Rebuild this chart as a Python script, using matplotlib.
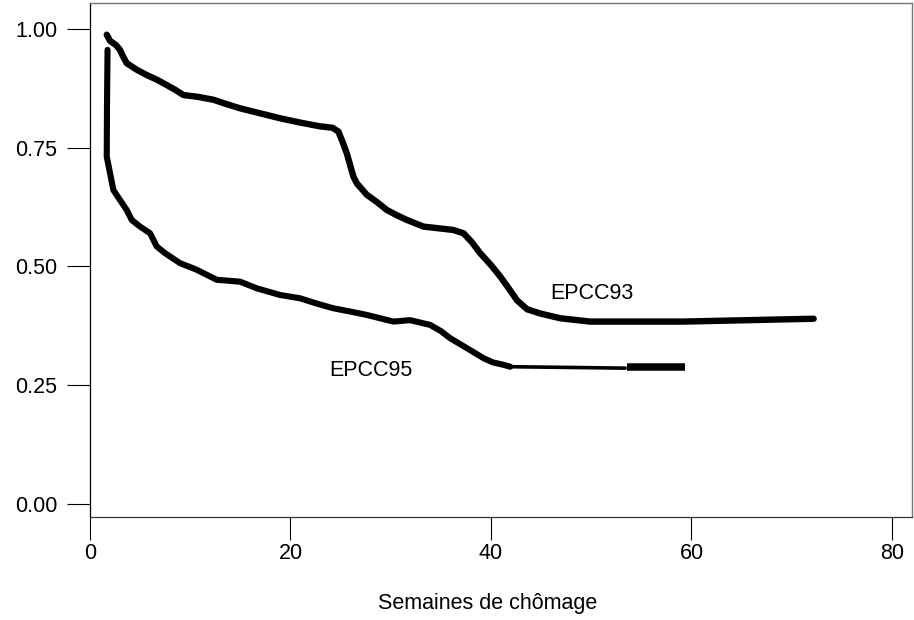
import matplotlib
matplotlib.use('Agg')
import matplotlib.pyplot as plt

plt.rcParams['font.family'] = ['Liberation Sans', 'DejaVu Sans']

# Kaplan-Meier style survival curves
epcc93_weeks = [1.67, 2.0, 2.6, 2.99, 3.3, 3.66, 4.6, 5.66, 6.7, 7.65, 8.5, 9.31, 10.8, 12.31, 13.6,
                14.97, 16.3, 17.64, 18.96, 20.96, 22.95, 24.2, 24.78, 25.2, 25.62, 26.28, 26.62,
                27.61, 28.6, 29.61, 30.6, 31.61, 33.26, 34.93, 36.2, 37.26, 38.1, 38.92, 40.0,
                40.92, 41.8, 42.59, 43.6, 44.91, 46.91, 49.90, 59.18, 72.19]
epcc93_surv = [0.988, 0.975, 0.966, 0.956, 0.942, 0.928, 0.915, 0.903, 0.893, 0.882, 0.872, 0.861,
               0.857, 0.851, 0.842, 0.833, 0.826, 0.819, 0.812, 0.803, 0.795, 0.792, 0.784, 0.762,
               0.738, 0.689, 0.675, 0.651, 0.636, 0.619, 0.608, 0.598, 0.584, 0.580, 0.577, 0.570,
               0.551, 0.528, 0.503, 0.479, 0.453, 0.429, 0.410, 0.401, 0.391, 0.384, 0.384, 0.390]

epcc95_weeks = [1.75, 1.7, 1.67, 1.996, 2.33, 2.99, 3.66, 4.16, 4.99, 5.99, 6.66, 7.49, 8.98,
                10.31, 10.65, 12.65, 14.97, 16.64, 18.96, 20.96, 22.6, 24.28, 26.0, 27.61,
                30.27, 31.94, 33.93, 35.0, 35.93, 37.92, 39.25, 40.2, 41.25, 41.92]
epcc95_surv = [0.956, 0.850, 0.731, 0.697, 0.661, 0.640, 0.619, 0.598, 0.584, 0.570, 0.542, 0.528,
               0.507, 0.496, 0.493, 0.472, 0.468, 0.454, 0.440, 0.433, 0.422, 0.412, 0.405, 0.398,
               0.384, 0.387, 0.377, 0.364, 0.349, 0.324, 0.307, 0.298, 0.293, 0.289]
epcc95_tail_weeks = [41.92, 53.39]
epcc95_tail_surv = [0.289, 0.286]
epcc95_end_weeks = [53.6, 59.4]
epcc95_end_surv = [0.288, 0.288]

x_ticks = [0, 20, 40, 60, 80]
y_ticks = [0.00, 0.25, 0.50, 0.75, 1.00]

fig = plt.figure(figsize=(9.14, 6.2), dpi=100)
ax = fig.add_axes([90 / 914, 1 - 517 / 620, 822 / 914, 514 / 620])

line_kw = dict(color='black', solid_capstyle='round', solid_joinstyle='round')
ax.plot(epcc93_weeks, epcc93_surv, lw=4.6, **line_kw)
ax.plot(epcc95_weeks, epcc95_surv, lw=4.4, **line_kw)
ax.plot(epcc95_tail_weeks, epcc95_tail_surv, lw=2.6, **line_kw)
ax.plot(epcc95_end_weeks, epcc95_end_surv, lw=5.4, color='black', solid_capstyle='butt')

ax.text(45.9, 0.444, 'EPCC93', fontsize=15.5, va='center', ha='left')
ax.text(23.85, 0.282, 'EPCC95', fontsize=15.5, va='center', ha='left')

ax.set_xlim(0, 82.0)
ax.set_ylim(-0.0274, 1.0547)
ax.set_xticks(x_ticks)
ax.set_yticks(y_ticks)
ax.set_yticklabels([f'{v:.2f}' for v in y_ticks])
ax.tick_params(axis='both', direction='out', length=16.5, width=0.8, labelsize=15.5, colors='black')
ax.tick_params(axis='y', pad=7)
ax.tick_params(axis='x', pad=2)

for side in ['top', 'right']:
    ax.spines[side].set_color('#777777')
    ax.spines[side].set_linewidth(1.0)
ax.spines['left'].set_color('black')
ax.spines['bottom'].set_color('#333333')
for side in ['left', 'bottom']:
    ax.spines[side].set_linewidth(0.9)

fig.text(488 / 914, 1 - 603 / 620, 'Semaines de chômage', fontsize=15.5, ha='center', va='center')

fig.savefig('out.png', dpi=100)
